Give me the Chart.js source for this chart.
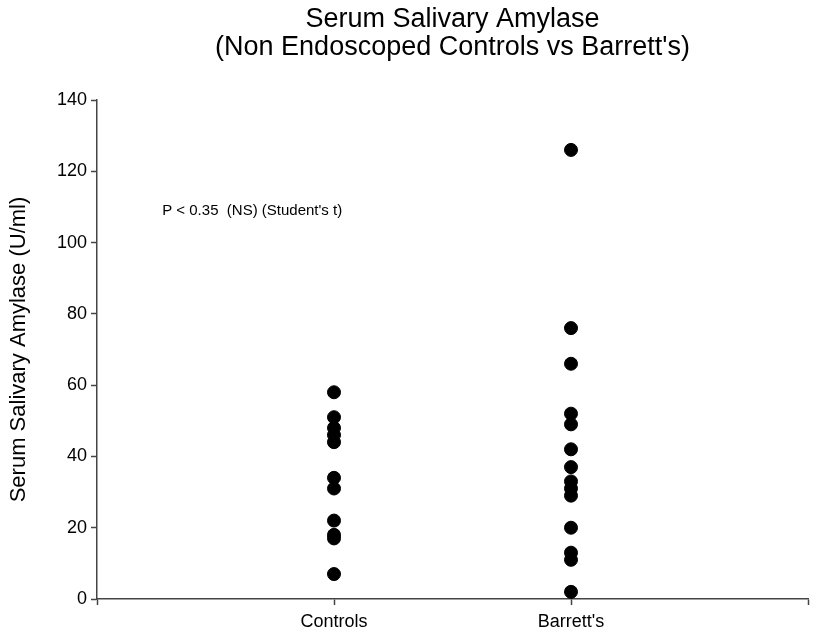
<!DOCTYPE html>
<html>
<head>
<meta charset="utf-8">
<title>Serum Salivary Amylase</title>
<script src="https://cdn.jsdelivr.net/npm/chart.js@4.4.0/dist/chart.umd.min.js"></script>
<style>
  html, body { margin: 0; padding: 0; background: #fff; }
  #wrap { width: 820px; height: 631px; }
</style>
</head>
<body>
<div id="wrap"><canvas id="amylaseChart" width="820" height="631"></canvas></div>
<script>
// donnees
const categories = ['Controls', "Barrett's"];
const controlsValues = [58, 51, 48, 46, 44, 34, 31, 22, 18, 17, 7];
const barrettsValues = [126, 76, 66, 52, 49, 42, 37, 33, 31, 29, 20, 13, 11, 2];
const yTickLabels = [0, 20, 40, 60, 80, 100, 120, 140];

const titleLines = ['Serum Salivary Amylase', "(Non Endoscoped Controls vs Barrett's)"];
const yAxisTitle = 'Serum Salivary Amylase (U/ml)';
const noteText = "P < 0.35  (NS) (Student's t)";

const fontFamily = "'Liberation Sans', Arial, sans-serif";
const axisColor = '#444';

// categorie i -> position x = i + 1
function toPoints(values, index) {
    return values.map((v) => ({ x: index + 1, y: v }));
}

// titre + texte P
const textPlugin = {
    id: 'textPlugin',
    afterDraw(chart) {
        const ctx = chart.ctx;
        const area = chart.chartArea;
        const xs = chart.scales.x;
        const ys = chart.scales.y;
        ctx.save();
        ctx.fillStyle = '#000';
        ctx.textAlign = 'center';
        ctx.textBaseline = 'middle';
        ctx.font = '27px ' + fontFamily;
        const cx = (area.left + area.right) / 2;
        ctx.fillText(titleLines[0], cx, 20);
        ctx.fillText(titleLines[1], cx, 48);

        ctx.textAlign = 'left';
        ctx.font = '15px ' + fontFamily;
        ctx.fillText(noteText, xs.getPixelForValue(0.275), ys.getPixelForValue(109));
        ctx.restore();
    }
};

const config = {
    type: 'scatter',
    data: {
        datasets: [
            {
                label: categories[0],
                data: toPoints(controlsValues, 0),
                backgroundColor: '#000',
                borderColor: '#000',
                pointRadius: 6.5,
                pointHoverRadius: 6.5
            },
            {
                label: categories[1],
                data: toPoints(barrettsValues, 1),
                backgroundColor: '#000',
                borderColor: '#000',
                pointRadius: 6.5,
                pointHoverRadius: 6.5
            }
        ]
    },
    options: {
        responsive: false,
        animation: false,
        layout: {
            padding: { top: 100, right: 12, bottom: 0, left: 0 }
        },
        plugins: {
            legend: { display: false },
            title: { display: false },
            tooltip: { enabled: false }
        },
        scales: {
            x: {
                type: 'linear',
                min: 0,
                max: categories.length + 1,
                afterBuildTicks(scale) {
                    const t = [];
                    for (let i = 0; i <= categories.length + 1; i++) t.push({ value: i });
                    scale.ticks = t;
                },
                afterFit(scale) { scale.height = 32; },
                ticks: {
                    autoSkip: false,
                    maxRotation: 0,
                    padding: 6,
                    color: '#000',
                    font: { size: 18, family: fontFamily },
                    callback: (value) => categories[value - 1] || ''
                },
                grid: {
                    drawOnChartArea: false,
                    tickLength: 6,
                    tickColor: axisColor,
                    tickWidth: 1.5
                },
                border: { color: axisColor, width: 1.5 }
            },
            y: {
                min: yTickLabels[0],
                max: yTickLabels[yTickLabels.length - 1],
                afterBuildTicks(scale) {
                    scale.ticks = yTickLabels.map((v) => ({ value: v }));
                },
                afterFit(scale) { scale.width = 97; },
                ticks: {
                    padding: 4,
                    color: '#000',
                    font: { size: 18, family: fontFamily }
                },
                grid: {
                    drawOnChartArea: false,
                    tickLength: 6,
                    tickColor: axisColor,
                    tickWidth: 1.5
                },
                border: { color: axisColor, width: 1.5 },
                title: {
                    display: true,
                    text: yAxisTitle,
                    color: '#000',
                    font: { size: 22, family: fontFamily },
                    padding: { top: 6, bottom: 0 }
                }
            }
        }
    },
    plugins: [textPlugin]
};

const ctx = document.getElementById('amylaseChart').getContext('2d');
const amylaseChart = new Chart(ctx, config);
</script>
</body>
</html>
